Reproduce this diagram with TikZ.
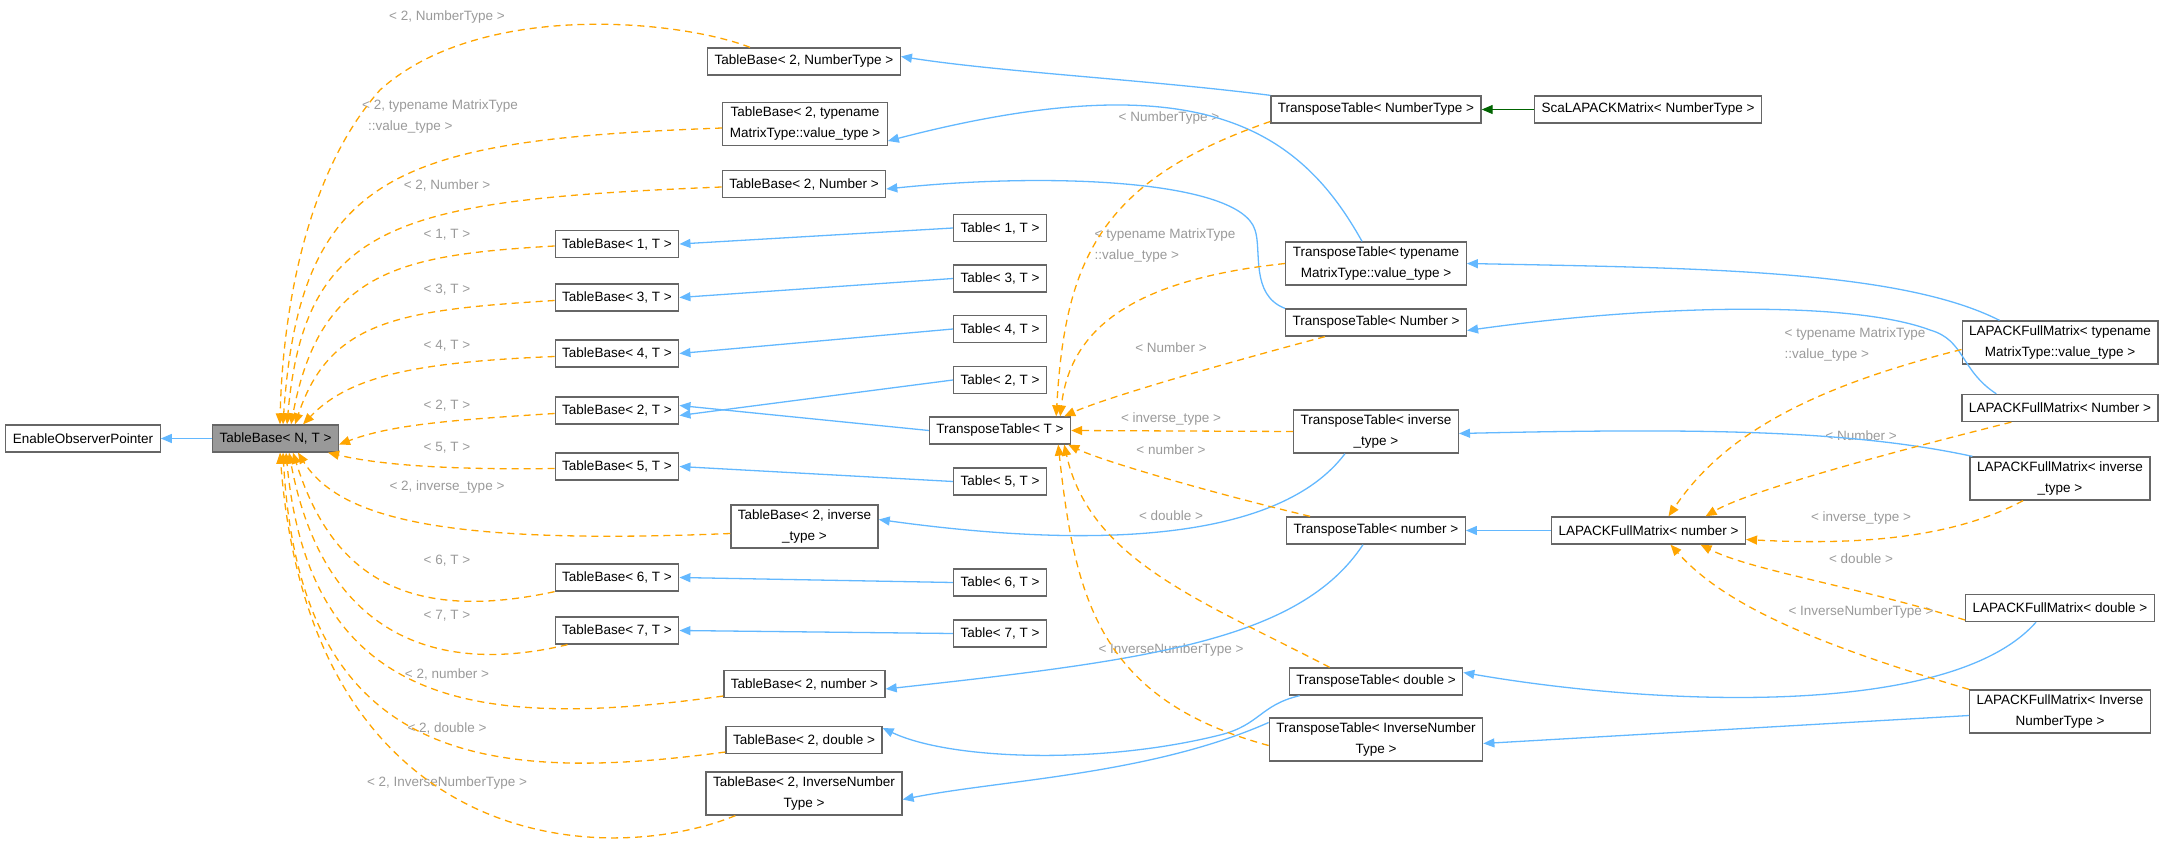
\documentclass[tikz,border=0pt]{standalone}
\usepackage{fontspec}
\setmainfont{Liberation Sans}
\usetikzlibrary{arrows.meta}
\tikzset{>={Triangle[length=11pt,width=9pt]}}
\definecolor{inhblue}{HTML}{63B8FF}
\definecolor{tplorange}{HTML}{FFA500}
\definecolor{usegreen}{HTML}{006400}
\definecolor{lblgray}{HTML}{9A9A9A}
\definecolor{boxgray}{HTML}{666666}
\tikzset{
  box/.style={draw=boxgray,line width=1.3pt,fill=white,inner xsep=7pt,inner ysep=0pt,
    minimum height=27pt,align=center,font=\fontsize{13.5}{21}\selectfont},
  lbl/.style={text=lblgray,align=left,inner sep=1pt,font=\fontsize{13.5}{21}\selectfont},
  inh/.style={->,draw=inhblue,line width=1.3pt},
  tpl/.style={->,draw=tplorange,line width=1.3pt,dash pattern=on 7pt off 5pt},
  use/.style={->,draw=usegreen,line width=1.3pt}
}

\begin{document}
\begin{tikzpicture}[x=1pt,y=-1pt]
      \useasboundingbox (0,0) rectangle (2166,853);

      % left column
      \node[box](eop) at (83,438.5) {EnableObserverPointer};
      \node[box,fill=gray!80](tb) at (275.5,438.5) {TableBase< N, T >};

      % TableBase specialisations
      \node[box](tbnt) at (804,61.5) {TableBase< 2, NumberType >};
      \node[box,minimum height=43pt](tbmt) at (805,124) {TableBase< 2, typename\\MatrixType::value\_type >};
      \node[box](tbn) at (804,184) {TableBase< 2, Number >};
      \node[box](tb1) at (617,244) {TableBase< 1, T >};
      \node[box](tb3) at (617,297.5) {TableBase< 3, T >};
      \node[box](tb4) at (617,353.5) {TableBase< 4, T >};
      \node[box](tb2) at (617,410.5) {TableBase< 2, T >};
      \node[box](tb5) at (617,466.5) {TableBase< 5, T >};
      \node[box,minimum height=43pt](tbinv) at (804.5,526.5) {TableBase< 2, inverse\\\_type >};
      \node[box](tb6) at (617,577.5) {TableBase< 6, T >};
      \node[box](tb7) at (617,630.5) {TableBase< 7, T >};
      \node[box](tbnum) at (804.5,684) {TableBase< 2, number >};
      \node[box](tbdbl) at (804,740) {TableBase< 2, double >};
      \node[box,minimum height=43pt](tbint) at (804,793.5) {TableBase< 2, InverseNumber\\Type >};

      % Table< k, T >
      \node[box](tab1) at (1000,228) {Table< 1, T >};
      \node[box](tab3) at (1000,278.5) {Table< 3, T >};
      \node[box](tab4) at (1000,329) {Table< 4, T >};
      \node[box](tab2) at (1000,380) {Table< 2, T >};
      \node[box](ttT) at (1000,430.5) {TransposeTable< T >};
      \node[box](tab5) at (1000,481.5) {Table< 5, T >};
      \node[box](tab6) at (1000,582.5) {Table< 6, T >};
      \node[box](tab7) at (1000,633.5) {Table< 7, T >};

      % TransposeTable specialisations
      \node[box](ttnt) at (1376,109.5) {TransposeTable< NumberType >};
      \node[box](scal) at (1648,109.5) {ScaLAPACKMatrix< NumberType >};
      \node[box,minimum height=43pt](ttmt) at (1376,263.5) {TransposeTable< typename\\MatrixType::value\_type >};
      \node[box](ttn) at (1376,322.5) {TransposeTable< Number >};
      \node[box,minimum height=43pt](ttinv) at (1376,431.5) {TransposeTable< inverse\\\_type >};
      \node[box](ttnum) at (1376,530.5) {TransposeTable< number >};
      \node[box](ttdbl) at (1376,681.5) {TransposeTable< double >};
      \node[box,minimum height=43pt](ttint) at (1376,739.5) {TransposeTable< InverseNumber\\Type >};

      % LAPACKFullMatrix
      \node[box](lfnum) at (1648.5,530.5) {LAPACKFullMatrix< number >};
      \node[box,minimum height=43pt](lfmt) at (2060,342.5) {LAPACKFullMatrix< typename\\MatrixType::value\_type >};
      \node[box](lfn) at (2060,408) {LAPACKFullMatrix< Number >};
      \node[box,minimum height=43pt](lfinv) at (2060,478.5) {LAPACKFullMatrix< inverse\\\_type >};
      \node[box](lfdbl) at (2060,608) {LAPACKFullMatrix< double >};
      \node[box,minimum height=43pt](lfint) at (2060,711.5) {LAPACKFullMatrix< Inverse\\NumberType >};

      % template argument labels
      \node[lbl](ltbnt) at (447,17) {< 2, NumberType >};
      \node[lbl](ltbmt) at (440,117) {< 2, typename MatrixType\\\hspace*{6pt}::value\_type >};
      \node[lbl](ltbn) at (447,185) {< 2, Number >};
      \node[lbl](ltb1) at (447,235) {< 1, T >};
      \node[lbl](ltb3) at (447,290) {< 3, T >};
      \node[lbl](ltb4) at (447,346) {< 4, T >};
      \node[lbl](ltb2) at (447,406) {< 2, T >};
      \node[lbl](ltb5) at (447,448) {< 5, T >};
      \node[lbl](ltbinv) at (447,487) {< 2, inverse\_type >};
      \node[lbl](ltb6) at (447,561) {< 6, T >};
      \node[lbl](ltb7) at (447,616) {< 7, T >};
      \node[lbl](ltbnum) at (447,674) {< 2, number >};
      \node[lbl](ltbdbl) at (447,728) {< 2, double >};
      \node[lbl](ltbint) at (447,783) {< 2, InverseNumberType >};

      \node[lbl](lttnt) at (1169,118) {< NumberType >};
      \node[lbl](lttmt) at (1165,246) {< typename MatrixType\\::value\_type >};
      \node[lbl](lttn) at (1171,348) {< Number >};
      \node[lbl](lttinv) at (1171,419) {< inverse\_type >};
      \node[lbl](lttnum) at (1171,450) {< number >};
      \node[lbl](lttdbl) at (1171,516) {< double >};
      \node[lbl](lttint) at (1171,650) {< InverseNumberType >};

      \node[lbl](llfmt) at (1855,345) {< typename MatrixType\\::value\_type >};
      \node[lbl](llfn) at (1861,436) {< Number >};
      \node[lbl](llfinv) at (1861,518) {< inverse\_type >};
      \node[lbl](llfdbl) at (1861,559) {< double >};
      \node[lbl](llfint) at (1861,612) {< InverseNumberType >};

      % inheritance
      \draw[inh] (tb) -- (eop);
      \draw[inh] (tab1.west) -- (tb1.east);
      \draw[inh] (tab3.west) -- (tb3.east);
      \draw[inh] (tab4.west) -- (tb4.east);
      \draw[inh] (tab2.west) -- ([yshift=-5pt]tb2.east);
      \draw[inh] (ttT.west) -- ([yshift=5pt]tb2.east);
      \draw[inh] (tab5.west) -- (tb5.east);
      \draw[inh] (tab6.west) -- (tb6.east);
      \draw[inh] (tab7.west) -- (tb7.east);

      \draw[inh] (ttnt.north west) .. controls (1150,80) and (1000,72) .. ([yshift=5pt]tbnt.east);
      \draw[inh] ([xshift=-14pt]ttmt.north) .. controls (1300,130) and (1200,60) .. ([yshift=-17pt]tbmt.east);
      \draw[inh] (ttn.north west) .. controls (1250,295) and (1262,250) .. (1255,230)
        .. controls (1240,180) and (1050,172) .. ([yshift=-5pt]tbn.east);
      \draw[inh] ([xshift=-31pt]ttinv.south) .. controls (1280,540) and (1100,550) .. ([yshift=7pt]tbinv.east);
      \draw[inh] ([xshift=-13pt]ttnum.south) .. controls (1300,640) and (1150,660) .. ([yshift=-5pt]tbnum.east);
      \draw[inh] ([xshift=11pt]ttdbl.south west) .. controls (1260,705) and (1260,725) .. (1220,735)
        .. controls (1100,765) and (950,760) .. ([yshift=12pt]tbdbl.east);
      \draw[inh] ([yshift=17pt]ttint.west) .. controls (1150,775) and (1000,780) .. ([yshift=-6pt]tbint.east);

      \draw[use] (scal) -- (ttnt);

      \draw[inh] ([xshift=38pt]lfmt.north west) .. controls (1900,270) and (1700,268) .. (ttmt.east);
      \draw[inh] ([xshift=35pt]lfn.north west) .. controls (1960,370) and (1965,340) .. (1930,330)
        .. controls (1850,300) and (1650,305) .. ([yshift=-8pt]ttn.east);
      \draw[inh] ([xshift=3pt]lfinv.north west) .. controls (1850,430) and (1700,428) .. ([yshift=-2pt]ttinv.east);
      \draw[inh] (lfnum) -- (ttnum);
      \draw[inh] ([xshift=-24pt]lfdbl.south) .. controls (1950,720) and (1650,705) .. ([yshift=9pt]ttdbl.east);
      \draw[inh] ([yshift=-4pt]lfint.west) -- ([yshift=-4pt]ttint.east);

      % template instances of TableBase
      \draw[tpl] ([xshift=-54pt]tbnt.north) .. controls (680,20) and (480,0) .. (380,90)
        .. controls (300,180) and (282,330) .. ([xshift=4.5pt]tb.north);
      \draw[tpl] ([yshift=-4pt]tbmt.west) .. controls (400,140) and (300,170) .. ([xshift=7.5pt]tb.north);
      \draw[tpl] ([yshift=-3pt]tbn.west) .. controls (400,200) and (305,220) .. ([xshift=11.5pt]tb.north);
      \draw[tpl] ([yshift=-2pt]tb1.west) .. controls (400,255) and (320,270) .. ([xshift=15.5pt]tb.north);
      \draw[tpl] ([yshift=-3pt]tb3.west) .. controls (400,310) and (330,320) .. ([xshift=19.5pt]tb.north);
      \draw[tpl] ([yshift=-3pt]tb4.west) .. controls (420,362) and (350,375) .. ([xshift=27.5pt]tb.north);
      \draw[tpl] ([yshift=-3pt]tb2.west) .. controls (450,420) and (390,425) .. ([yshift=-6pt]tb.east);
      \draw[tpl] ([yshift=-2pt]tb5.west) .. controls (450,470) and (380,465) .. ([xshift=-11pt]tb.south east);
      \draw[tpl] ([yshift=-7pt]tbinv.west) .. controls (450,545) and (340,520) .. ([xshift=22.5pt]tb.south);
      \draw[tpl] (tb6.south west) .. controls (400,625) and (330,570) .. ([xshift=17.5pt]tb.south);
      \draw[tpl] ([xshift=13pt]tb7.south west) .. controls (420,680) and (320,620) .. ([xshift=13.5pt]tb.south);
      \draw[tpl] ([yshift=-12pt]tbnum.west) .. controls (480,730) and (310,710) .. ([xshift=10.5pt]tb.south);
      \draw[tpl] ([yshift=-12pt]tbdbl.west) .. controls (480,785) and (300,760) .. ([xshift=7.5pt]tb.south);
      \draw[tpl] ([xshift=30pt]tbint.south west) .. controls (600,870) and (310,850) .. ([xshift=4.5pt]tb.south);

      % template instances of TransposeTable
      \draw[tpl] ([yshift=-12pt]ttnt.west) .. controls (1100,180) and (1065,260) .. ([xshift=-15pt]ttT.north east);
      \draw[tpl] (ttmt.west) .. controls (1130,280) and (1070,330) .. ([xshift=-11pt]ttT.north east);
      \draw[tpl] ([xshift=40pt]ttn.south west) .. controls (1200,370) and (1100,400) .. ([xshift=-7pt]ttT.north east);
      \draw[tpl] (ttinv.west) -- (ttT.east);
      \draw[tpl] ([xshift=24pt]ttnum.north west) .. controls (1200,490) and (1100,460) .. ([xshift=-3pt]ttT.south east);
      \draw[tpl] ([xshift=41pt]ttdbl.north west) .. controls (1200,600) and (1090,560) .. ([xshift=-7pt]ttT.south east);
      \draw[tpl] ([yshift=-6pt]ttint.west) .. controls (1100,700) and (1075,600) .. ([xshift=-13pt]ttT.south east);

      % template instances of LAPACKFullMatrix
      \draw[tpl] ([yshift=-7pt]lfmt.west) .. controls (1800,390) and (1720,440) .. ([xshift=20pt]lfnum.north);
      \draw[tpl] ([xshift=50pt]lfn.south west) .. controls (1900,450) and (1750,490) .. ([xshift=57pt]lfnum.north);
      \draw[tpl] ([xshift=-37pt]lfinv.south) .. controls (1950,540) and (1850,545) .. ([yshift=-9pt]lfnum.east);
      \draw[tpl] ([yshift=-12pt]lfdbl.west) .. controls (1850,585) and (1750,570) .. ([xshift=52pt]lfnum.south);
      \draw[tpl] (lfint.north west) .. controls (1800,640) and (1720,600) .. ([xshift=22pt]lfnum.south);
\end{tikzpicture}
\end{document}
